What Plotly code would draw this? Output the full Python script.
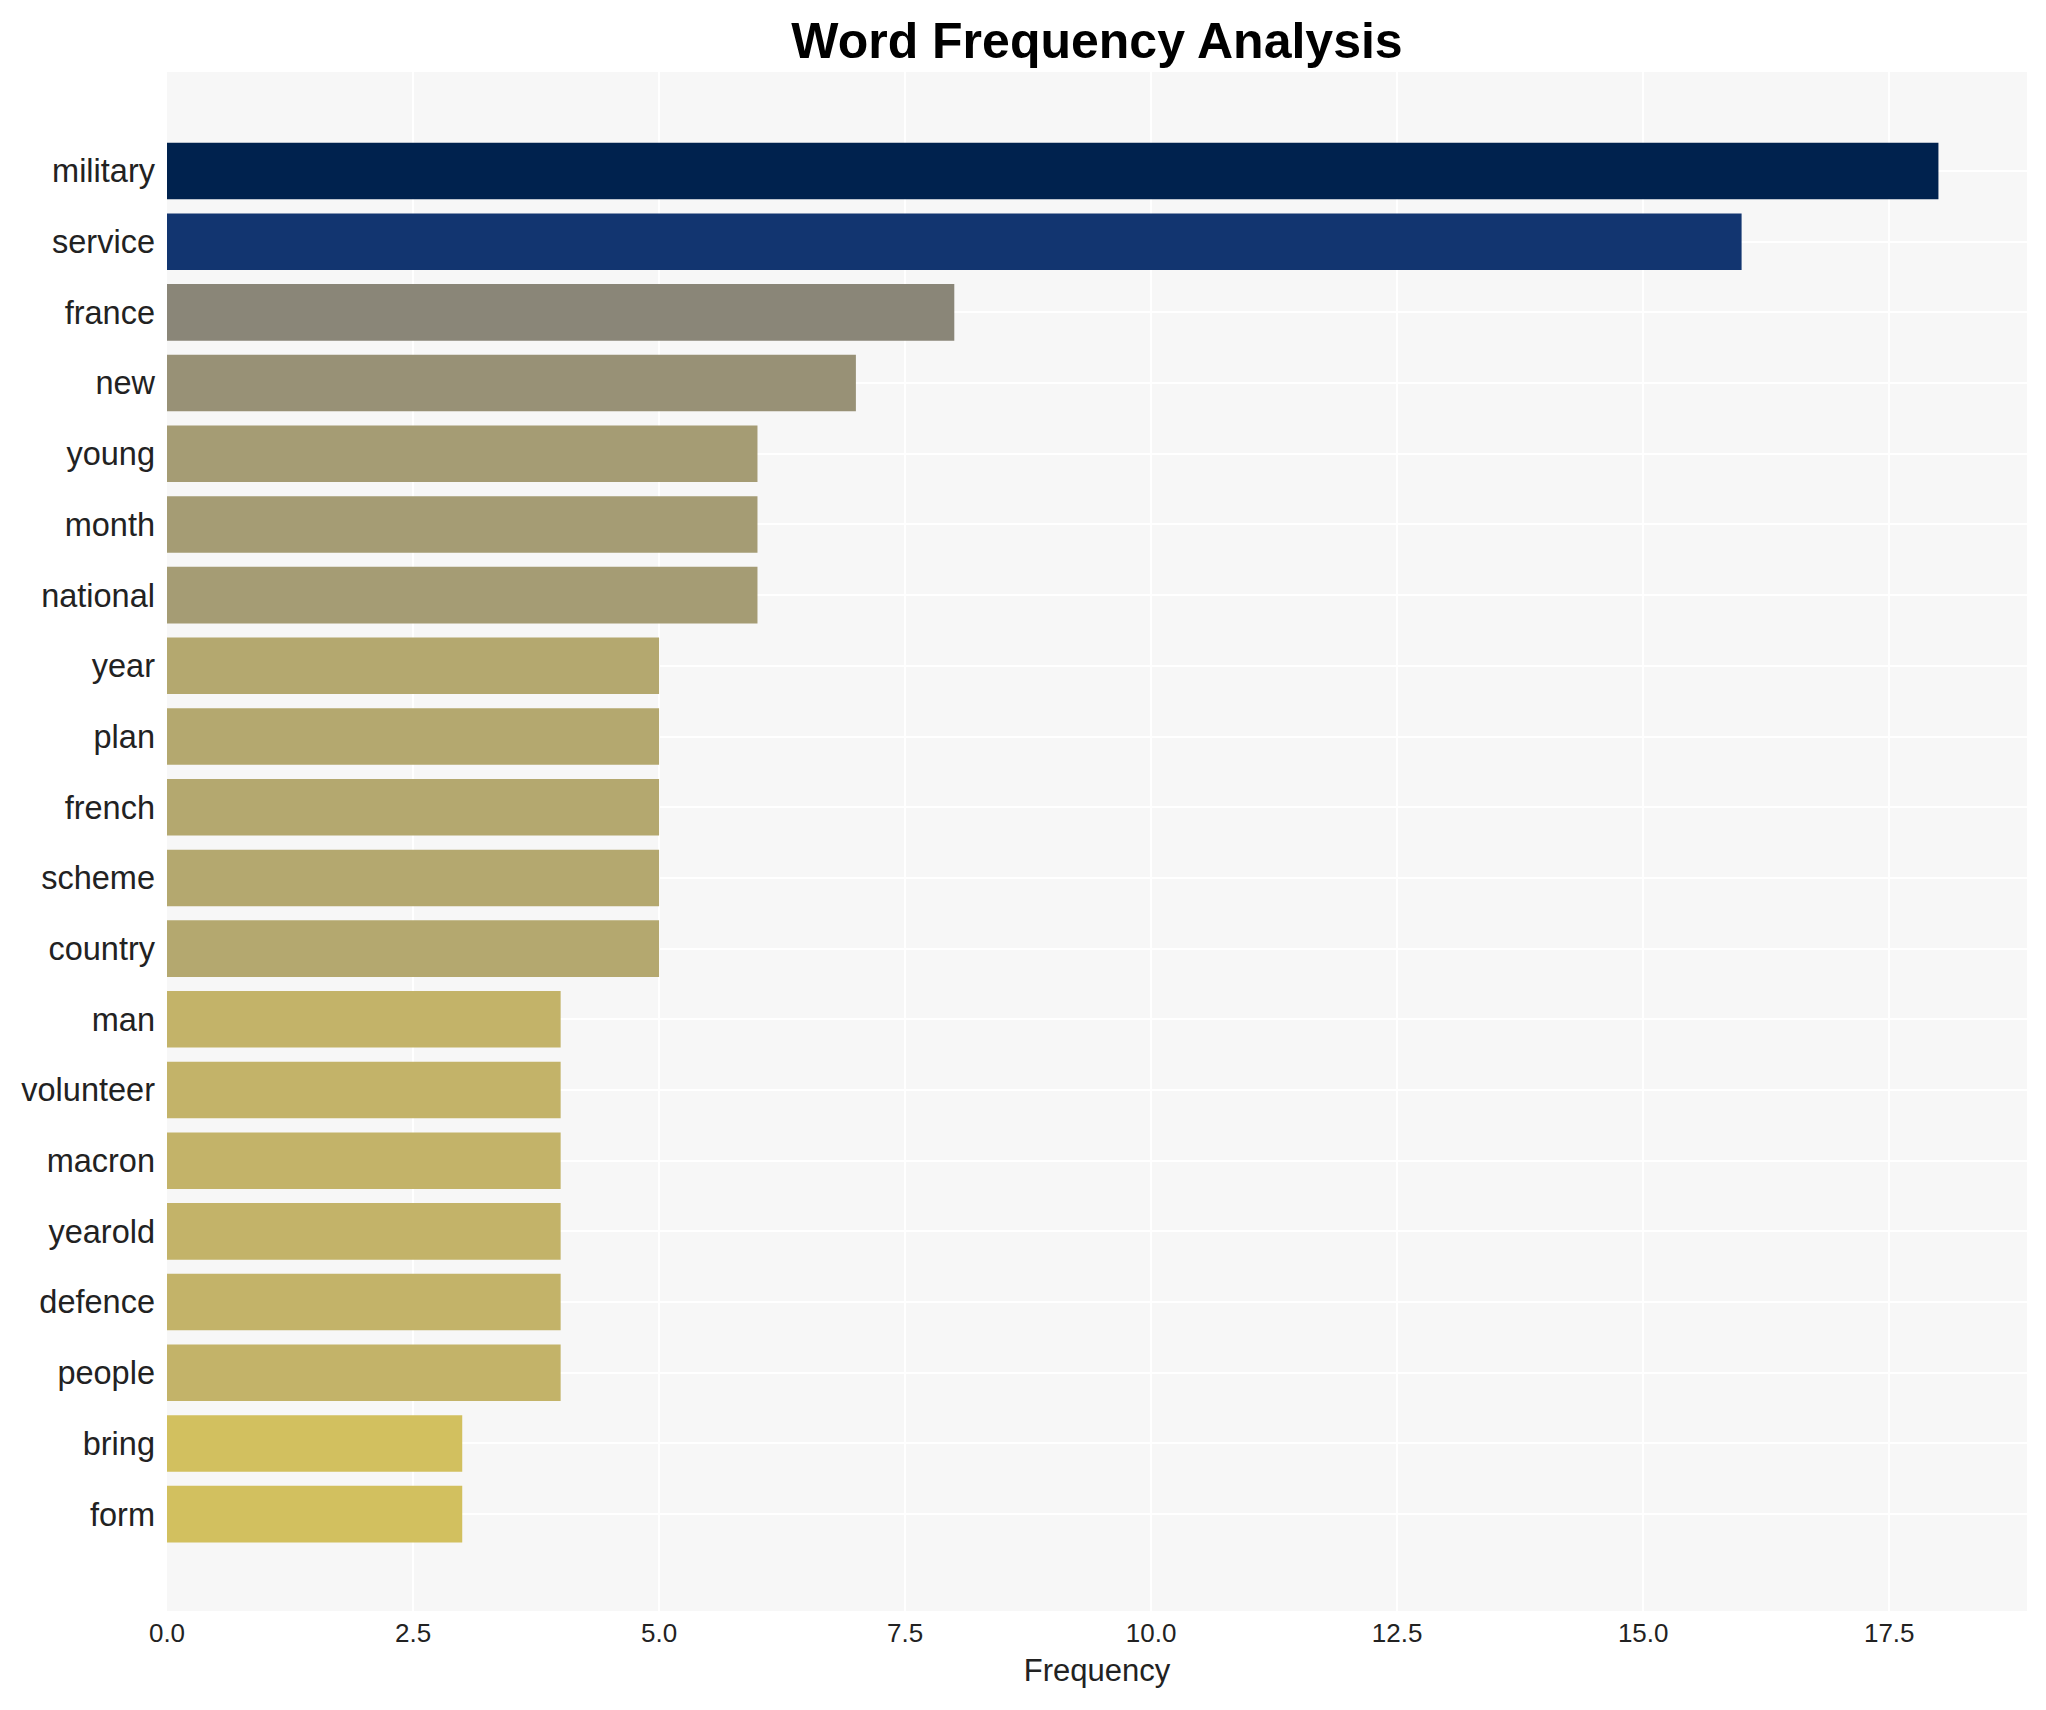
import plotly.graph_objects as go

words = ["military", "service", "france", "new", "young", "month", "national",
         "year", "plan", "french", "scheme", "country", "man", "volunteer",
         "macron", "yearold", "defence", "people", "bring", "form"]
counts = [18, 16, 8, 7, 6, 6, 6, 5, 5, 5, 5, 5, 4, 4, 4, 4, 4, 4, 3, 3]

x_ticks = [0, 2.5, 5, 7.5, 10, 12.5, 15, 17.5]
x_tick_text = ["0.0", "2.5", "5.0", "7.5", "10.0", "12.5", "15.0", "17.5"]

# bottom-to-top order for plotting
words_plot = words[::-1]
counts_plot = counts[::-1]

FONT = "Liberation Sans, Arial, sans-serif"

fig = go.Figure(
    go.Bar(
        x=counts_plot,
        y=words_plot,
        orientation="h",
        marker=dict(
            color=counts_plot,
            colorscale="cividis_r",
            cmin=0,
            cmax=max(counts),
            line=dict(width=0),
        ),
        width=0.8,
        showlegend=False,
    )
)

fig.update_layout(
    width=2046,
    height=1710,
    margin=dict(l=167, r=19, t=72, b=99),
    paper_bgcolor="white",
    plot_bgcolor="#f7f7f7",
    font=dict(family=FONT, color="#222222"),
    title=dict(
        text="<b>Word Frequency Analysis</b>",
        font=dict(family=FONT, size=50, color="black"),
        x=0.5,
        xref="paper",
        xanchor="center",
        y=1 - 40 / 1710,
        yref="container",
        yanchor="middle",
    ),
    xaxis=dict(
        range=[0, 18.9],
        tickvals=x_ticks,
        ticktext=x_tick_text,
        tickfont=dict(size=26, color="#222222"),
        showgrid=True,
        gridcolor="white",
        gridwidth=2,
        zeroline=False,
        showline=False,
        ticks="",
        ticklabelstandoff=4,
        title=dict(text="Frequency", font=dict(size=31, color="#222222"), standoff=12),
    ),
    yaxis=dict(
        categoryorder="array",
        categoryarray=words_plot,
        range=[-1.37, 20.4],
        tickfont=dict(size=32.5, color="#222222"),
        showgrid=True,
        gridcolor="white",
        gridwidth=2,
        zeroline=False,
        showline=False,
        ticks="",
        ticklabelstandoff=11,
    ),
    bargap=0.2,
)

fig.write_html(
    "out.html",
    config={"displayModeBar": False},
    post_script="document.body.style.margin='0';",
)
